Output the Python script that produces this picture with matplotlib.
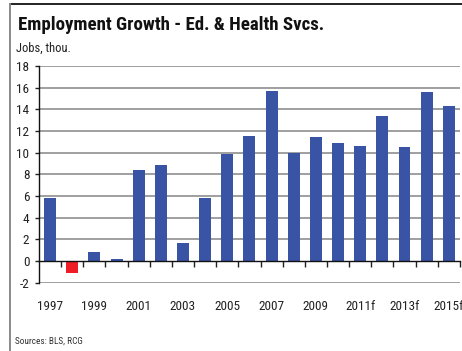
import matplotlib
matplotlib.use("Agg")
import matplotlib.pyplot as plt
from matplotlib.lines import Line2D

years = ["1997", "1998", "1999", "2000", "2001", "2002", "2003", "2004", "2005",
         "2006", "2007", "2008", "2009", "2010", "2011f", "2012f", "2013f",
         "2014f", "2015f"]
jobs = [5.8, -1.1, 0.8, 0.15, 8.4, 8.85, 1.65, 5.8, 9.85,
        11.5, 15.7, 9.95, 11.45, 10.9, 10.6, 13.4, 10.5, 15.6, 14.3]
yticks = list(range(-2, 19, 2))

BLUE = "#3953a5"
RED = "#ee1c25"
FONT = ["Roboto Condensed", "Liberation Sans", "DejaVu Sans"]
plt.rcParams["font.family"] = FONT

fig = plt.figure(figsize=(4.62, 3.51), dpi=100)
ax = fig.add_axes([0.0844, 0.1946, 0.911, 0.6174])

x = list(range(len(years)))
colors = [RED if v < 0 else BLUE for v in jobs]
ax.bar(x, jobs, width=0.54, color=colors, zorder=3)

ax.set_xlim(-0.5, len(years) - 0.5)
ax.set_ylim(-2, 18)
ax.set_yticks(yticks)
ax.set_yticklabels([str(t) for t in yticks])
for t in yticks:
    if t != 0:
        ax.axhline(t, color="#8f8f8f", lw=1.2, zorder=1)

# category axis sits on the zero line
ax.spines["bottom"].set_position(("data", 0))
ax.spines["bottom"].set_color("#111111")
ax.spines["bottom"].set_linewidth(1.0)
ax.spines["bottom"].set_zorder(4)
ax.spines["left"].set_color("#111111")
ax.spines["left"].set_linewidth(1.0)
ax.spines["top"].set_visible(False)
ax.spines["right"].set_visible(False)

ax.set_xticks(x[::2])
ax.set_xticklabels(years[::2])
ax.set_xticks([i + 0.5 for i in x[:-1]] + [len(years) - 0.5], minor=True)
ax.tick_params(axis="x", which="major", length=0, pad=28, labelsize=9.5,
               colors="#222222")
ax.tick_params(axis="x", which="minor", length=4, width=1.0, direction="out",
               color="#222222")
ax.tick_params(axis="y", length=3, width=1.0, pad=4, labelsize=9.5,
               colors="#222222")

fig.text(0.039, 0.9145, "Employment Growth - Ed. & Health Svcs.",
         fontsize=13.6, fontweight="bold", color="#111111", va="baseline")
fig.text(0.0346, 0.853, "Jobs, thou.", fontsize=9, color="#222222",
         va="baseline")
fig.text(0.032, 0.02, "Sources: BLS, RCG", fontsize=6.7, color="#333333",
         va="baseline")

# outer frame: top rule and left rule
fig.add_artist(Line2D([0.0216, 1.0], [0.989, 0.989], color="#222222", lw=1.4,
                      transform=fig.transFigure))
fig.add_artist(Line2D([0.0216, 0.0216], [0.0, 0.989], color="#8a8a8a", lw=1.4,
                      transform=fig.transFigure))

fig.savefig("out.png", dpi=100)
